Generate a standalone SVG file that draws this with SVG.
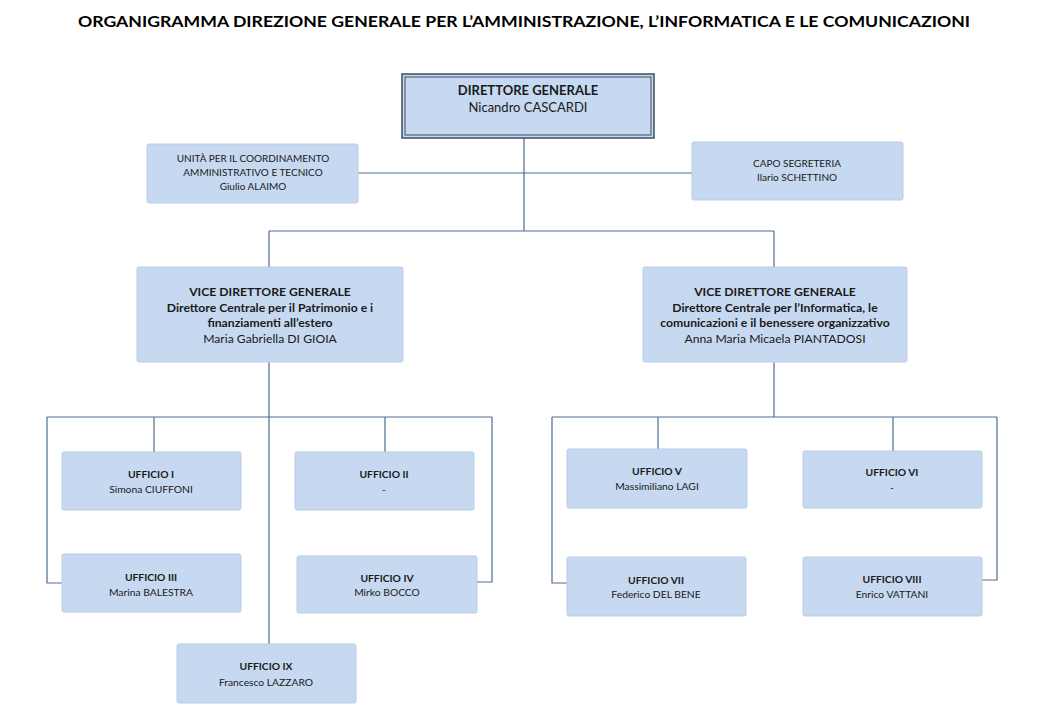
<svg xmlns="http://www.w3.org/2000/svg" width="1047" height="722" viewBox="0 0 1047 722">
<style>
.box{fill:#c6d9f0;stroke:#b9cde6;stroke-width:1}
.t{font-family:Lato,"Open Sans","Liberation Sans",sans-serif;font-size:10.3px;fill:#1a1a1a;text-anchor:middle}
.s{font-size:10px}
.v{font-size:12.2px}
.d{font-size:13px}
.b{font-weight:bold}
.ln{fill:none;stroke:#4f6c92;stroke-width:1.2}
</style>
<rect width="1047" height="722" fill="#ffffff"/>
<text x="524" y="27" font-family="Lato,'Liberation Sans',sans-serif" font-size="16" font-weight="bold" text-anchor="middle" fill="#000" textLength="892" lengthAdjust="spacingAndGlyphs">ORGANIGRAMMA DIREZIONE GENERALE PER L’AMMINISTRAZIONE, L’INFORMATICA E LE COMUNICAZIONI</text>
<g id="connectors">
<path class="ln" d="M524 138V231M358 173H692M269 231H774M269 231V267M774 231V267"/>
<path class="ln" d="M269 362V644M47 417H492M154 417V452M385 417V452M47 417V583H62M492 417V582H477"/>
<path class="ln" d="M774 362V417M552 417H997M658 417V449M893 417V451M552 417V583H567M997 417V580H982"/>
</g>
<g id="dg">
<rect x="402" y="74" width="252" height="64" fill="#c6d9f0" stroke="#3d4d63" stroke-width="1.5"/>
<rect x="405" y="77" width="246" height="58" fill="none" stroke="#3d4d63" stroke-width="1"/>
<text class="t d b" x="528" y="95">DIRETTORE GENERALE</text>
<text class="t d" x="528" y="112">Nicandro CASCARDI</text>
</g>
<g id="unita">
<rect class="box" x="147" y="144" width="211" height="59" rx="2"/>
<text class="t s" x="253" y="162">UNITÀ PER IL COORDINAMENTO</text>
<text class="t s" x="253" y="176">AMMINISTRATIVO E TECNICO</text>
<text class="t s" x="253" y="190">Giulio ALAIMO</text>
</g>
<g id="capo">
<rect class="box" x="692" y="142" width="211" height="58" rx="2"/>
<text class="t s" x="797" y="167">CAPO SEGRETERIA</text>
<text class="t s" x="797" y="181">Ilario SCHETTINO</text>
</g>
<g id="vdg1">
<rect class="box" x="137" y="267" width="266" height="95" rx="2"/>
<text class="t v b" x="270" y="296">VICE DIRETTORE GENERALE</text>
<text class="t v b" x="270" y="312">Direttore Centrale per il Patrimonio e i</text>
<text class="t v b" x="270" y="327">finanziamenti all’estero</text>
<text class="t v" x="270" y="343">Maria Gabriella DI GIOIA</text>
</g>
<g id="vdg2">
<rect class="box" x="643" y="267" width="264" height="95" rx="2"/>
<text class="t v b" x="775" y="296">VICE DIRETTORE GENERALE</text>
<text class="t v b" x="775" y="312">Direttore Centrale per l’Informatica, le</text>
<text class="t v b" x="775" y="327">comunicazioni e il benessere organizzativo</text>
<text class="t v" x="775" y="343">Anna Maria Micaela PIANTADOSI</text>
</g>
<g id="u1">
<rect class="box" x="62" y="452" width="179" height="58" rx="2"/>
<text class="t b" x="151" y="478">UFFICIO I</text>
<text class="t" x="151" y="493">Simona CIUFFONI</text>
</g>
<g id="u2">
<rect class="box" x="295" y="452" width="179" height="58" rx="2"/>
<text class="t b" x="384" y="478">UFFICIO II</text>
<text class="t" x="384" y="493">-</text>
</g>
<g id="u3">
<rect class="box" x="62" y="554" width="179" height="58" rx="2"/>
<text class="t b" x="151" y="581">UFFICIO III</text>
<text class="t" x="151" y="596">Marina BALESTRA</text>
</g>
<g id="u4">
<rect class="box" x="297" y="556" width="180" height="57" rx="2"/>
<text class="t b" x="387" y="582">UFFICIO IV</text>
<text class="t" x="387" y="596">Mirko BOCCO</text>
</g>
<g id="u5">
<rect class="box" x="567" y="449" width="180" height="59" rx="2"/>
<text class="t b" x="657" y="475">UFFICIO V</text>
<text class="t" x="657" y="490">Massimiliano LAGI</text>
</g>
<g id="u6">
<rect class="box" x="803" y="451" width="179" height="57" rx="2"/>
<text class="t b" x="892" y="476">UFFICIO VI</text>
<text class="t" x="892" y="491">-</text>
</g>
<g id="u7">
<rect class="box" x="567" y="557" width="179" height="59" rx="2"/>
<text class="t b" x="656" y="584">UFFICIO VII</text>
<text class="t" x="656" y="598">Federico DEL BENE</text>
</g>
<g id="u8">
<rect class="box" x="803" y="557" width="179" height="59" rx="2"/>
<text class="t b" x="892" y="583">UFFICIO VIII</text>
<text class="t" x="892" y="598">Enrico VATTANI</text>
</g>
<g id="u9">
<rect class="box" x="177" y="644" width="179" height="59" rx="2"/>
<text class="t b" x="266" y="670">UFFICIO IX</text>
<text class="t" x="266" y="686">Francesco LAZZARO</text>
</g>
</svg>
